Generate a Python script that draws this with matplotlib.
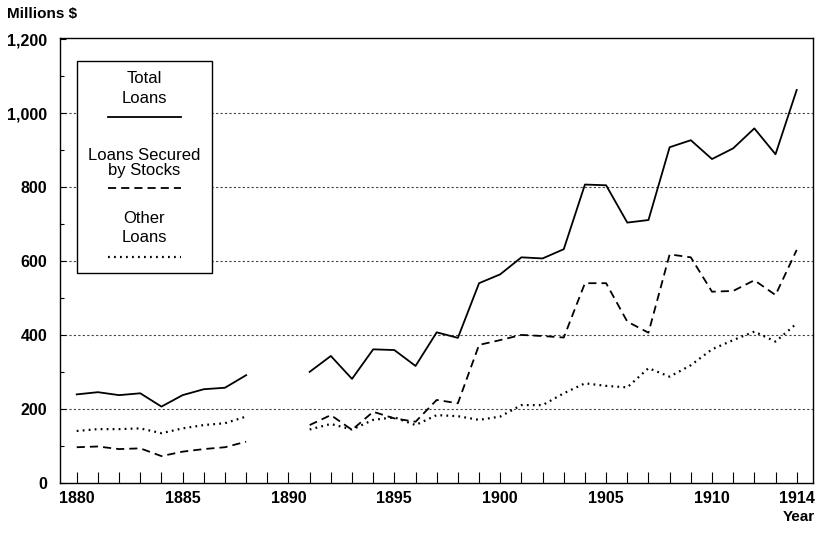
import numpy as np
import matplotlib
matplotlib.use("Agg")
import matplotlib.pyplot as plt
from matplotlib.patches import Rectangle

nan = np.nan

# Loans of New York national banks, millions of dollars (no data for 1889-1890)
years = list(range(1880, 1915))
total_loans = [239, 245, 237, 242, 206, 237, 253, 257, 291, nan, nan,
               300, 343, 281, 361, 359, 316, 407, 392, 540, 564, 610,
               607, 632, 807, 805, 704, 711, 908, 927, 876, 905, 959,
               889, 1063]
stock_loans = [96, 98, 91, 93, 72, 84, 91, 96, 111, nan, nan,
               156, 183, 143, 192, 174, 165, 224, 215, 373, 386, 400,
               397, 393, 540, 540, 436, 406, 618, 610, 517, 519, 548,
               508, 630]
other_loans = [140, 145, 145, 147, 134, 147, 156, 161, 179, nan, nan,
               144, 159, 144, 170, 177, 156, 183, 180, 170, 179, 210,
               210, 242, 269, 262, 258, 310, 287, 318, 361, 386, 409,
               382, 431]

x_tick_years = [1880, 1885, 1890, 1895, 1900, 1905, 1910, 1914]
y_ticks = [0, 200, 400, 600, 800, 1000, 1200]
y_tick_labels = ["0", "200", "400", "600", "800", "1,000", "1,200"]

plt.rcParams["font.family"] = ["Liberation Sans", "DejaVu Sans"]

fig = plt.figure(figsize=(8.2, 5.37), dpi=100)
ax = fig.add_axes([60 / 820, 1 - 482.7 / 537, 753 / 820, 445.2 / 537])

solid_style = dict(color="black", lw=1.3)
dash_style = dict(color="black", lw=1.3, linestyle=(0, (4.5, 2.8)))
dot_style = dict(color="black", lw=1.6, linestyle=(0, (0.8, 1.9)))

ax.plot(years, total_loans, **solid_style)
ax.plot(years, stock_loans, **dash_style)
ax.plot(years, other_loans, **dot_style)

ax.set_xlim(1879.21, 1914.77)
ax.set_ylim(0, 1205)

ax.set_xticks(x_tick_years)
ax.set_xticklabels([str(y) for y in x_tick_years])
ax.set_xticks(years, minor=True)
ax.set_yticks(y_ticks)
ax.set_yticklabels(y_tick_labels)
ax.set_yticks(np.arange(100, 1200, 200), minor=True)

ax.tick_params(axis="x", which="both", direction="in", length=8, width=0.8,
               pad=6, labelsize=11.5)
ax.tick_params(axis="y", which="major", direction="in", length=4, width=0.8,
               pad=9, labelsize=11.5)
ax.tick_params(axis="y", which="minor", direction="in", length=3, width=0.8)
for lab in ax.get_xticklabels() + ax.get_yticklabels():
    lab.set_fontweight("bold")

for sp in ax.spines.values():
    sp.set_linewidth(1.0)

# dotted horizontal grid
for v in y_ticks[1:-1]:
    ax.axhline(v, color="#444444", lw=0.8, linestyle=(0, (2, 2)), zorder=0)

fig.text(7 / 820, 1 - 14 / 537, "Millions $", fontsize=11, fontweight="bold",
         ha="left", va="center")
fig.text(815 / 820, 1 - 517 / 537, "Year", fontsize=11, fontweight="bold",
         ha="right", va="center")

# hand-built legend box
def axpt(px, py):
    return ((px - 60) / 753, (482.7 - py) / 445.2)

x0, y0 = axpt(76.7, 272.7)
x1, y1 = axpt(212.3, 60.7)
ax.add_patch(Rectangle((x0, y0), x1 - x0, y1 - y0, transform=ax.transAxes,
                       facecolor="white", edgecolor="black", lw=1.0, zorder=5))

cx = axpt(144.5, 0)[0]
legend_rows = [
    ("Total\nLoans", 88.5, 1.35, solid_style, 117.3),
    ("Loans Secured\nby Stocks", 163.0, 1.0, dash_style, 187.7),
    ("Other\nLoans", 228.0, 1.35, dot_style, 257.3),
]
for label, ty, spacing, style, ly in legend_rows:
    ax.text(cx, axpt(0, ty)[1], label, transform=ax.transAxes, ha="center",
            va="center", fontsize=12, linespacing=spacing, zorder=6)
    lx0, lyy = axpt(108, ly)
    lx1, _ = axpt(181, ly)
    ax.plot([lx0, lx1], [lyy, lyy], transform=ax.transAxes, zorder=6, **style)

fig.savefig("out.png", dpi=100)
